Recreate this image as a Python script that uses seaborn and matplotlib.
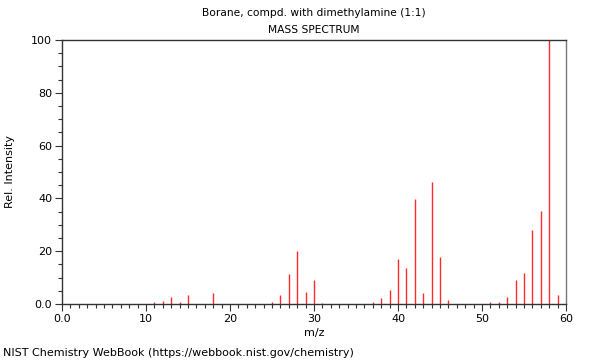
import matplotlib
matplotlib.use("Agg")
import matplotlib.pyplot as plt
import seaborn as sns
import pandas as pd
from matplotlib.ticker import MultipleLocator, FixedFormatter, FixedLocator

# peaks
mz = [11, 12, 13, 14, 15, 18,
      25, 26, 27, 28, 29, 30, 31,
      37, 38, 39, 40, 41, 42, 43, 44, 45, 46,
      51, 52, 53, 54, 55, 56, 57, 58, 59]
intensity = [0.7, 1.0, 2.8, 0.6, 3.3, 4.0,
             0.7, 3.3, 11.5, 20.0, 4.4, 9.2, 0.3,
             0.6, 2.4, 5.3, 17.2, 13.8, 39.8, 4.2, 46.2, 17.8, 1.4,
             0.6, 0.9, 2.5, 9.0, 11.6, 28.0, 35.3, 100.0, 3.5]

x_ticks = [0, 10, 20, 30, 40, 50, 60]
x_labels = ["0.0", "10", "20", "30", "40", "50", "60"]
y_ticks = [0, 20, 40, 60, 80, 100]
y_labels = ["0.0", "20", "40", "60", "80", "100"]

df = pd.DataFrame({"mz": mz, "intensity": intensity})

sns.set_theme(style="ticks")
plt.rcParams["font.family"] = ["DejaVu Sans"]
plt.rcParams["text.color"] = "black"
plt.rcParams["axes.labelcolor"] = "black"
plt.rcParams["xtick.color"] = "black"
plt.rcParams["ytick.color"] = "black"

fig = plt.figure(figsize=(6, 3.6), dpi=100)
ax = fig.add_axes([62 / 600, 56 / 360, 504 / 600, 264 / 360])

ax.vlines(df["mz"], 0, df["intensity"], color="#ff2a2a", linewidth=1.0)

ax.set_xlim(0, 60)
ax.set_ylim(0, 100)
ax.xaxis.set_major_locator(FixedLocator(x_ticks))
ax.xaxis.set_major_formatter(FixedFormatter(x_labels))
ax.yaxis.set_major_locator(FixedLocator(y_ticks))
ax.yaxis.set_major_formatter(FixedFormatter(y_labels))
ax.xaxis.set_minor_locator(MultipleLocator(1))
ax.yaxis.set_minor_locator(MultipleLocator(5))
ax.tick_params(which="major", length=5, width=0.8, color="#333333", labelsize=8, pad=2)
ax.tick_params(which="minor", length=3, width=0.8, color="#333333")

for side in ["left", "bottom", "top"]:
    ax.spines[side].set_color("#333333")
    ax.spines[side].set_linewidth(1.0)
ax.spines["right"].set_color("#777777")
ax.spines["right"].set_linewidth(1.0)

ax.set_xlabel("m/z", fontsize=8, labelpad=3)
ax.set_ylabel("Rel. Intensity", fontsize=8, labelpad=12)

fig.text(0.523, 0.965, "Borane, compd. with dimethylamine (1:1)", ha="center", va="center", fontsize=7.7)
fig.text(0.523, 0.917, "MASS SPECTRUM", ha="center", va="center", fontsize=7.7)
fig.text(0.005, 0.02, "NIST Chemistry WebBook (https://webbook.nist.gov/chemistry)", ha="left", va="center", fontsize=8)

fig.savefig("out.png", dpi=100)
